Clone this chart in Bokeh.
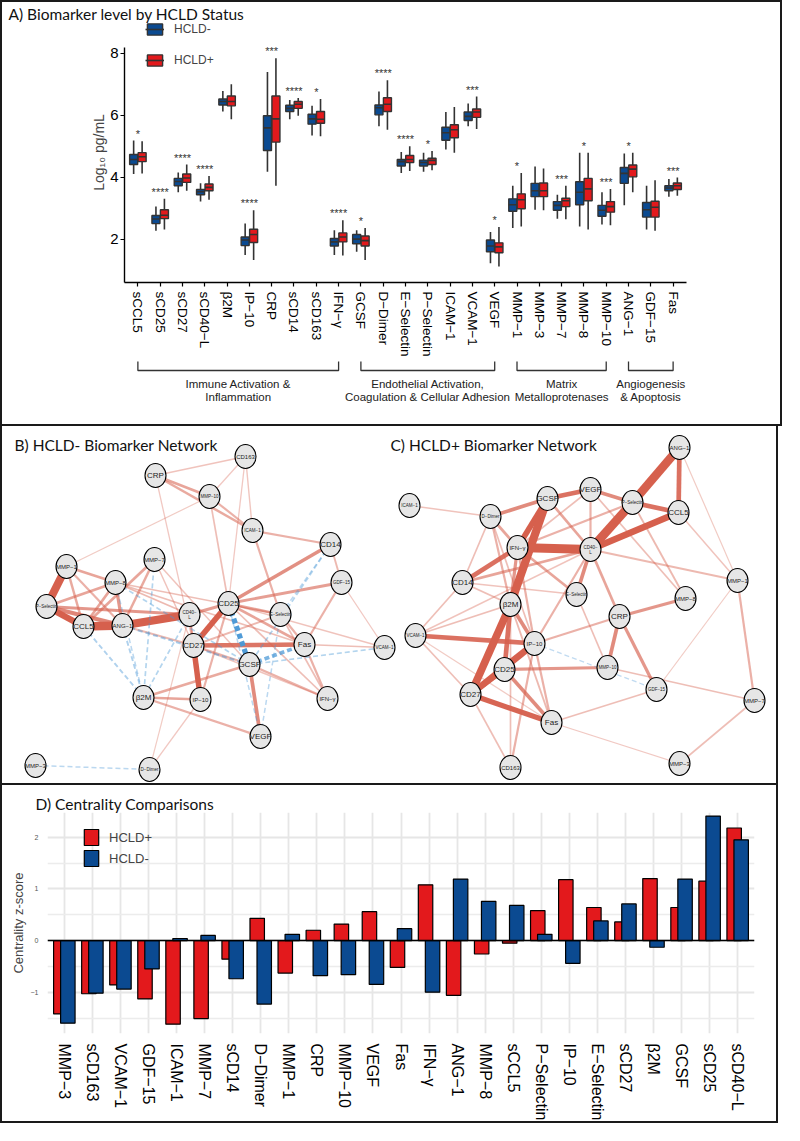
import numpy as np
from bokeh.plotting import figure
from bokeh.models import (Range1d, FixedTicker, Label, Legend, LegendItem, ColumnDataSource, Span)
from bokeh.layouts import column
from bokeh.embed import file_html
from bokeh.resources import INLINE
from bokeh.core.properties import value

# ---------------- Panel A data ----------------
BIOMARKERS = ["sCCL5", "sCD25", "sCD27", "sCD40−L", "β2M", "IP−10", "CRP", "sCD14", "sCD163", "IFN−γ",
              "GCSF", "D−Dimer", "E−Selectin", "P−Selectin", "ICAM−1", "VCAM−1", "VEGF",
              "MMP−1", "MMP−3", "MMP−7", "MMP−8", "MMP−10", "ANG−1", "GDF−15", "Fas"]
NEG_LO = [4.10, 2.27, 3.51, 3.21, 6.12, 1.49, 4.17, 5.87, 5.34, 1.49, 1.59, 5.64, 4.13, 4.17, 4.89, 5.64, 1.22, 2.36, 2.95, 2.66, 2.41, 2.47, 3.09, 2.31, 3.37]
NEG_Q1 = [4.41, 2.50, 3.72, 3.43, 6.33, 1.79, 4.86, 6.12, 5.71, 1.78, 1.85, 6.01, 4.36, 4.36, 5.19, 5.83, 1.59, 2.90, 3.37, 2.93, 3.11, 2.74, 3.80, 2.71, 3.56]
NEG_MED = [4.57, 2.65, 3.86, 3.53, 6.44, 1.97, 5.59, 6.22, 5.88, 1.91, 2.00, 6.24, 4.50, 4.47, 5.43, 5.96, 1.78, 3.11, 3.56, 3.09, 3.51, 2.93, 4.12, 2.95, 3.65]
NEG_Q3 = [4.73, 2.76, 3.96, 3.60, 6.52, 2.07, 5.98, 6.32, 6.03, 2.02, 2.15, 6.33, 4.57, 4.55, 5.61, 6.10, 1.97, 3.30, 3.80, 3.21, 3.85, 3.09, 4.31, 3.18, 3.72]
NEG_HI = [5.18, 3.05, 4.15, 3.80, 6.78, 2.50, 7.39, 6.49, 6.30, 2.29, 2.29, 6.76, 4.81, 4.79, 6.10, 6.38, 2.23, 3.72, 4.34, 3.43, 4.79, 3.51, 4.76, 3.72, 3.94]
POS_LO = [4.12, 2.31, 3.56, 3.27, 5.87, 1.33, 3.72, 5.98, 5.32, 1.47, 1.33, 5.53, 4.20, 4.22, 4.79, 5.55, 1.12, 2.41, 2.93, 2.64, 2.31, 2.45, 3.51, 2.27, 3.40]
POS_Q1 = [4.50, 2.66, 3.83, 3.56, 6.30, 1.89, 5.13, 6.22, 5.74, 1.91, 1.78, 6.12, 4.47, 4.41, 5.27, 5.93, 1.56, 2.98, 3.37, 3.05, 3.24, 2.87, 4.01, 2.71, 3.60]
POS_MED = [4.66, 2.77, 3.97, 3.67, 6.44, 2.15, 5.88, 6.35, 5.87, 2.07, 1.95, 6.35, 4.57, 4.54, 5.53, 6.10, 1.75, 3.27, 3.56, 3.24, 3.62, 3.05, 4.26, 3.03, 3.72]
POS_Q3 = [4.79, 2.95, 4.10, 3.78, 6.62, 2.32, 6.62, 6.44, 6.12, 2.20, 2.10, 6.56, 4.70, 4.61, 5.69, 6.20, 1.88, 3.46, 3.81, 3.32, 3.96, 3.21, 4.39, 3.22, 3.81]
POS_HI = [5.16, 3.30, 4.41, 4.04, 7.00, 2.93, 7.84, 6.55, 6.52, 2.61, 2.36, 7.13, 5.00, 4.84, 6.26, 6.60, 2.39, 4.13, 4.28, 3.72, 4.79, 3.62, 4.79, 3.90, 3.99]
SIGNIF = ["*", "****", "****", "****", "", "****", "***", "****", "*", "****", "*", "****", "****", "*", "",
          "***", "*", "*", "", "***", "*", "***", "*", "", "***"]
GROUP_LINE1 = ["Immune Activation &", "Endothelial Activation,", "Matrix", "Angiogenesis"]
GROUP_LINE2 = ["Inflammation", "Coagulation & Cellular Adhesion", "Metalloprotenases", "& Apoptosis"]
GROUP_FIRST = ["sCCL5", "GCSF", "MMP−1", "ANG−1"]
GROUP_LAST = ["IFN−γ", "VEGF", "MMP−10", "Fas"]

# ---------------- Panels B / C data (node layout) ----------------
B_NODES = ["CD163", "CRP", "MMP-10", "ICAM-1", "CD14", "MMP-7", "MMP-1", "MMP-8", "GDF-15", "P-Selectin",
           "CD25", "CD40-L", "E-Selectin", "CCL5", "ANG-1", "CD27", "Fas", "VCAM-1", "GCSF", "β2M",
           "IP-10", "IFN-γ", "VEGF", "MMP-3", "D-Dimer"]
B_X = [253, 163, 217, 260, 338, 162, 74, 123, 349, 54, 236, 197, 288, 91, 130, 201, 312, 392, 257, 151, 208, 335, 268, 43, 157]
B_Y = [464, 483, 504, 538, 552, 567, 574, 590, 590, 614, 611, 622, 622, 634, 633, 653, 652, 655, 672, 705, 707, 706, 744, 773, 777]
B_EDGES = [
    ("MMP-1", "P-Selectin", 0.72), ("P-Selectin", "CCL5", 0.55), ("CCL5", "ANG-1", 0.8), ("ANG-1", "CD40-L", 0.75),
    ("P-Selectin", "ANG-1", 0.32), ("CD25", "CD27", 0.5), ("CD27", "IP-10", 0.48), ("CD27", "Fas", 0.38),
    ("CD25", "CD14", 0.28), ("GCSF", "VEGF", 0.3), ("CD25", "GDF-15", 0.22), ("CD25", "E-Selectin", 0.2),
    ("CD25", "Fas", 0.2), ("CD40-L", "CD25", 0.22), ("MMP-8", "ANG-1", 0.25), ("MMP-8", "CCL5", 0.2),
    ("MMP-1", "MMP-8", 0.2), ("MMP-1", "CCL5", 0.18), ("P-Selectin", "MMP-8", 0.2), ("P-Selectin", "CD40-L", 0.25),
    ("MMP-7", "CCL5", 0.2), ("MMP-7", "ANG-1", 0.18), ("β2M", "IP-10", 0.2), ("β2M", "GCSF", 0.18),
    ("β2M", "VEGF", 0.15), ("CRP", "MMP-10", 0.2), ("CRP", "ICAM-1", 0.18), ("MMP-10", "ICAM-1", 0.15),
    ("ICAM-1", "CD14", 0.15), ("ICAM-1", "E-Selectin", 0.15), ("CD14", "GDF-15", 0.12), ("GDF-15", "Fas", 0.15),
    ("Fas", "IFN-γ", 0.15), ("GCSF", "IFN-γ", 0.15), ("CD27", "GCSF", 0.15), ("Fas", "VCAM-1", 0.1),
    ("E-Selectin", "Fas", 0.15), ("CD25", "IP-10", 0.15), ("CD27", "E-Selectin", 0.12), ("CD27", "CD40-L", 0.15),
    ("ANG-1", "CD27", 0.12), ("MMP-1", "ANG-1", 0.15), ("MMP-8", "CD40-L", 0.12), ("MMP-8", "E-Selectin", 0.1),
    ("MMP-8", "Fas", 0.1), ("CD25", "VCAM-1", 0.08), ("GDF-15", "VCAM-1", 0.06), ("CD163", "CRP", 0.08),
    ("CD163", "MMP-10", 0.06), ("CD163", "ICAM-1", 0.07), ("CD163", "CD25", 0.06), ("MMP-1", "MMP-10", 0.05),
    ("CRP", "CD27", 0.06), ("MMP-10", "CD25", 0.1), ("MMP-7", "CD27", 0.08), ("MMP-7", "GCSF", 0.08),
    ("IP-10", "D-Dimer", 0.06), ("CD40-L", "D-Dimer", 0.05), ("E-Selectin", "IFN-γ", 0.1), ("CD25", "IFN-γ", 0.1),
    ("CD27", "IFN-γ", 0.08), ("CD40-L", "IP-10", 0.1),
    ("CD25", "GCSF", -0.45), ("GCSF", "Fas", -0.3), ("CCL5", "β2M", -0.12), ("ANG-1", "β2M", -0.12),
    ("MMP-7", "β2M", -0.1), ("CD40-L", "β2M", -0.1), ("MMP-8", "GCSF", -0.1), ("ANG-1", "GCSF", -0.14),
    ("CD14", "GCSF", -0.1), ("CD14", "E-Selectin", -0.08), ("GCSF", "VCAM-1", -0.1), ("VEGF", "E-Selectin", -0.08),
    ("VEGF", "CD25", -0.08), ("MMP-3", "D-Dimer", -0.08), ("β2M", "MMP-8", -0.08),
]

C_NODES = ["ANG-1", "VEGF", "GCSF", "P-Selectin", "CCL5", "ICAM-1", "D-Dimer", "IFN-γ", "CD40-L", "CD14",
           "MMP-1", "E-Selectin", "MMP-8", "β2M", "CRP", "VCAM-1", "IP-10", "MMP-10", "CD25", "GDF-15",
           "CD27", "MMP-7", "Fas", "CD163", "MMP-3"]
C_X = [687, 598, 555, 640, 686, 417, 498, 525, 598, 470, 745, 584, 693, 518, 627, 423, 542, 615, 512, 664, 478, 762, 559, 518, 687]
C_Y = [455, 497, 506, 510, 520, 513, 524, 555, 557, 590, 588, 602, 606, 612, 624, 643, 651, 675, 677, 697, 702, 708, 730, 775, 771]
C_EDGES = [
    ("ANG-1", "P-Selectin", 0.8), ("ANG-1", "CCL5", 0.4), ("P-Selectin", "CCL5", 0.4), ("P-Selectin", "CD40-L", 0.8),
    ("CD40-L", "IFN-γ", 0.85), ("CD40-L", "CCL5", 0.6), ("GCSF", "β2M", 0.75), ("GCSF", "IFN-γ", 0.5),
    ("GCSF", "VEGF", 0.4), ("GCSF", "D-Dimer", 0.3), ("VEGF", "P-Selectin", 0.3), ("β2M", "CD27", 0.7),
    ("IP-10", "CD27", 0.6), ("CD25", "CD27", 0.4), ("CD27", "Fas", 0.45), ("CD25", "Fas", 0.3),
    ("β2M", "CD25", 0.4), ("β2M", "IP-10", 0.3), ("IFN-γ", "β2M", 0.25), ("VCAM-1", "IP-10", 0.4),
    ("CD14", "IFN-γ", 0.4), ("CD14", "CD40-L", 0.2), ("CD40-L", "CRP", 0.2), ("CRP", "MMP-10", 0.3),
    ("CRP", "GDF-15", 0.25), ("CRP", "MMP-8", 0.25), ("CD40-L", "E-Selectin", 0.3), ("CD25", "MMP-10", 0.25),
    ("MMP-1", "MMP-7", 0.15), ("MMP-7", "MMP-3", 0.1), ("IFN-γ", "E-Selectin", 0.2), ("D-Dimer", "β2M", 0.15),
    ("D-Dimer", "CD14", 0.1), ("VCAM-1", "CD27", 0.1), ("ICAM-1", "D-Dimer", 0.08), ("ANG-1", "MMP-1", 0.05),
    ("CCL5", "MMP-1", 0.08), ("P-Selectin", "MMP-8", 0.12), ("CD40-L", "MMP-1", 0.12), ("VEGF", "MMP-8", 0.1),
    ("CD163", "CD27", 0.1), ("CD163", "β2M", 0.1), ("CD163", "IP-10", 0.15), ("Fas", "MMP-3", 0.06),
    ("Fas", "GDF-15", 0.1), ("MMP-10", "MMP-7", 0.1), ("GDF-15", "MMP-1", 0.05), ("VCAM-1", "CD14", 0.1),
    ("VCAM-1", "β2M", 0.1), ("VCAM-1", "CD40-L", 0.08), ("VCAM-1", "Fas", 0.05), ("IP-10", "CRP", 0.15),
    ("D-Dimer", "IFN-γ", 0.2), ("D-Dimer", "IP-10", 0.1), ("GCSF", "CD40-L", 0.2), ("VEGF", "CD40-L", 0.15),
    ("VEGF", "IFN-γ", 0.1), ("P-Selectin", "IFN-γ", 0.15), ("CD14", "β2M", 0.1), ("IFN-γ", "IP-10", 0.15),
    ("IP-10", "Fas", 0.15), ("β2M", "Fas", 0.12), ("CD25", "IP-10", 0.2), ("CD14", "E-Selectin", 0.08),
    ("E-Selectin", "MMP-10", 0.1), ("CD40-L", "IP-10", 0.15),
    ("IP-10", "GDF-15", -0.06),
]

# ---------------- Panel D data ----------------
D_CATS = ["MMP−3", "sCD163", "VCAM−1", "GDF−15", "ICAM−1", "MMP−7", "sCD14", "D−Dimer", "MMP−1", "CRP",
          "MMP−10", "VEGF", "Fas", "IFN−γ", "ANG−1", "MMP−8", "sCCL5", "P−Selectin", "IP−10", "E−Selectin",
          "sCD27", "β2M", "GCSF", "sCD25", "sCD40−L"]
D_POS = [-1.42, -1.03, -0.86, -1.13, -1.62, -1.51, -0.36, 0.43, -0.63, 0.20, 0.32, 0.56, -0.52, 1.08, -1.06,
         -0.26, -0.05, 0.58, 1.18, 0.64, 0.36, 1.20, 0.64, 1.15, 2.18]
D_NEG = [-1.60, -1.02, -0.94, -0.55, 0.04, 0.10, -0.74, -1.23, 0.12, -0.68, -0.66, -0.85, 0.23, -1.00, 1.19,
         0.76, 0.68, 0.12, -0.44, 0.38, 0.71, -0.13, 1.19, 2.41, 1.95]

# ---------------- styles ----------------
BLUE = "#0b4a91"
RED = "#e3191c"
DARK = "#333333"
EDGE_POS = "#d6604d"
EDGE_NEG = "#4a98d6"
SANS = "Liberation Sans"
TITLE_FONT = "Lato"
BORDER = "2px solid #1a1a1a"


def style_title(p, text, offset):
    p.title.text = text
    p.title.align = "left"
    p.title.offset = offset
    p.title.standoff = 0
    p.title.text_font = TITLE_FONT
    p.title.text_font_size = "15.5px"
    p.title.text_font_style = "normal"
    p.title.text_color = "#111111"


# ======================= Panel A =======================
pA = figure(width=778, height=357, x_range=Range1d(0.4, 25.6), y_range=Range1d(0.60, 8.99),
            output_backend="svg", toolbar_location=None, tools="",
            min_border_left=122, min_border_right=94, min_border_top=20, min_border_bottom=64,
            outline_line_color=None)
pA.grid.grid_line_color = None
style_title(pA, "A) Biomarker level by HCLD Status", -116)

xA = np.arange(1, len(BIOMARKERS) + 1)
BOX_W = 0.36
OFF = 0.19


def boxes(p, x, lo, q1, med, q3, hi, color):
    p.segment(x0=x, y0=lo, x1=x, y1=hi, line_color=DARK, line_width=1.6)
    rb = p.vbar(x=x, width=BOX_W, bottom=q1, top=q3, fill_color=color, line_color=DARK, line_width=1.4)
    rm = p.segment(x0=x - BOX_W / 2, y0=med, x1=x + BOX_W / 2, y1=med, line_color=DARK, line_width=1.6)
    return rb, rm


rbn, rmn = boxes(pA, xA - OFF, NEG_LO, NEG_Q1, NEG_MED, NEG_Q3, NEG_HI, BLUE)
rbp, rmp = boxes(pA, xA + OFF, POS_LO, POS_Q1, POS_MED, POS_Q3, POS_HI, RED)

pA.text(x=xA, y=np.maximum(NEG_HI, POS_HI) + 0.22, text=SIGNIF, text_align="center",
        text_baseline="middle", text_font_size="11px", text_color=DARK, text_font=value(SANS))

pA.yaxis.ticker = FixedTicker(ticks=[2, 4, 6, 8])
pA.yaxis.bounds = (0.60, 8.19)
pA.yaxis.axis_label = "Log₁₀ pg/mL"
pA.yaxis.axis_label_text_font = SANS
pA.yaxis.axis_label_text_font_style = "normal"
pA.yaxis.axis_label_text_font_size = "14px"
pA.yaxis.axis_label_standoff = 0
pA.xaxis.ticker = FixedTicker(ticks=list(xA))
pA.xaxis.major_label_overrides = {int(i): n for i, n in zip(xA, BIOMARKERS)}
pA.xaxis.major_label_orientation = "vertical"
for ax in (pA.xaxis, pA.yaxis):
    ax.axis_line_color = "black"
    ax.axis_line_width = 1.4
    ax.major_tick_line_color = "black"
    ax.major_tick_line_width = 1.2
    ax.major_tick_out = 4
    ax.major_tick_in = 0
    ax.minor_tick_line_color = None
    ax.major_label_text_font = SANS
    ax.major_label_text_color = "black"
pA.xaxis.major_label_text_font_size = "13.5px"
pA.yaxis.major_label_text_font_size = "15px"
pA.yaxis.major_label_standoff = 2

legA = Legend(items=[LegendItem(label="HCLD-", renderers=[rbn, rmn]),
                     LegendItem(label="HCLD+", renderers=[rbp, rmp])],
              location=(21, 215), glyph_width=19, glyph_height=14, label_height=14,
              spacing=17, padding=0, margin=0, label_standoff=10, border_line_color=None,
              background_fill_alpha=0, label_text_font=SANS, label_text_font_size="12px")
pA.add_layout(legA)

# group brackets (own small figure sharing the category axis)
pA2 = figure(width=778, height=65, x_range=pA.x_range, y_range=Range1d(432, 367),
             output_backend="svg", toolbar_location=None, tools="",
             x_axis_location=None, y_axis_location=None,
             min_border_left=122, min_border_right=94, min_border_top=0, min_border_bottom=0,
             outline_line_color=None)
pA2.grid.grid_line_color = None
g_x1 = [BIOMARKERS.index(f) + 1 for f in GROUP_FIRST]
g_x2 = [BIOMARKERS.index(l) + 1 for l in GROUP_LAST]
BR_TOP, BR_BOT = 369, 378
pA2.multi_line(xs=[[a, a, b, b] for a, b in zip(g_x1, g_x2)],
               ys=[[BR_TOP, BR_BOT, BR_BOT, BR_TOP] for _ in g_x1],
               line_color=DARK, line_width=1.3)
g_mid = [(a + b) / 2 for a, b in zip(g_x1, g_x2)]
pA2.text(x=g_mid, y=[391] * len(g_mid), text=GROUP_LINE1, text_align="center", text_baseline="middle",
         text_font=value(SANS), text_font_size="11.5px", text_color="#222222")
pA2.text(x=g_mid, y=[404] * len(g_mid), text=GROUP_LINE2, text_align="center", text_baseline="middle",
         text_font=value(SANS), text_font_size="11.5px", text_color="#222222")

panelA = column(pA, pA2, spacing=0, styles={"border": BORDER})

# ======================= Panels B & C =======================
pN = figure(width=778, height=359, x_range=Range1d(10, 788), y_range=Range1d(793, 434),
            output_backend="svg", toolbar_location=None, tools="",
            x_axis_location=None, y_axis_location=None, min_border=0, outline_line_color=None,
            styles={"border-left": BORDER, "border-right": BORDER, "border-bottom": BORDER})
pN.grid.grid_line_color = None


def draw_net(p, nodes, xs, ys, edges):
    pos = dict(zip(nodes, zip(xs, ys)))
    edges = sorted(edges, key=lambda e: abs(e[2]))
    for sign, color, dash in ((1, EDGE_POS, "solid"), (-1, EDGE_NEG, "5 3")):
        sel = [e for e in edges if np.sign(e[2]) == sign]
        w = np.abs(np.array([e[2] for e in sel]))
        src = ColumnDataSource(dict(
            x0=[pos[a][0] for a, b, _ in sel], y0=[pos[a][1] for a, b, _ in sel],
            x1=[pos[b][0] for a, b, _ in sel], y1=[pos[b][1] for a, b, _ in sel],
            lw=0.7 + 10 * w, la=np.minimum(1.0, 0.25 + 1.6 * w)))
        p.segment("x0", "y0", "x1", "y1", source=src, line_color=color, line_width="lw",
                  line_alpha="la", line_dash=dash)
    labels = [("CD40−\nL" if n == "CD40-L" else n.replace("-", "−")) for n in nodes]
    fs = ["8px" if len(n) <= 4 else ("6px" if len(n) == 5 else "4.5px") for n in nodes]
    src = ColumnDataSource(dict(x=xs, y=ys, t=labels, fs=fs))
    p.ellipse("x", "y", width=21, height=24, source=src, fill_color="#e6e6e6",
              line_color="black", line_width=1.1)
    p.text("x", "y", text="t", source=src, text_font_size="fs", text_align="center",
           text_baseline="middle", text_font=value(SANS), text_color="#222222", text_line_height=1.0)


draw_net(pN, B_NODES, B_X, B_Y, B_EDGES)
draw_net(pN, C_NODES, C_X, C_Y, C_EDGES)
pN.add_layout(Label(x=22, y=452, text="B) HCLD- Biomarker Network", text_font=TITLE_FONT,
                    text_font_size="15.5px", text_baseline="middle", text_color="#111111"))
pN.add_layout(Label(x=398, y=452, text="C) HCLD+ Biomarker Network", text_font=TITLE_FONT,
                    text_font_size="15.5px", text_baseline="middle", text_color="#111111"))

# ======================= Panel D =======================
pD = figure(width=778, height=338, x_range=Range1d(0.4, 25.6), y_range=Range1d(-1.80, 2.48),
            output_backend="svg", toolbar_location=None, tools="",
            min_border_left=45, min_border_right=26, min_border_top=27, min_border_bottom=80,
            outline_line_color=None,
            styles={"border-left": BORDER, "border-right": BORDER, "border-bottom": BORDER})
style_title(pD, "D) Centrality Comparisons", -12)
xD = np.arange(1, len(D_CATS) + 1)
BAR_W = 0.515
r_pos = pD.vbar(x=xD - 0.125, bottom=0, top=D_POS, width=BAR_W, fill_color=RED,
                line_color="black", line_width=1.2)
r_neg = pD.vbar(x=xD + 0.125, bottom=0, top=D_NEG, width=BAR_W, fill_color=BLUE,
                line_color="black", line_width=1.2)
pD.add_layout(Span(location=0, dimension="width", line_color="black", line_width=1.6))

pD.xaxis.ticker = FixedTicker(ticks=list(xD))
pD.xaxis.major_label_overrides = {int(i): n for i, n in zip(xD, D_CATS)}
pD.xaxis.major_label_orientation = "vertical"
pD.xaxis.major_label_text_font_size = "16px"
pD.xaxis.major_label_standoff = 4
pD.yaxis.ticker = FixedTicker(ticks=[-1, 0, 1, 2], minor_ticks=[-1.5, -0.5, 0.5, 1.5])
pD.yaxis.major_label_text_font_size = "7px"
pD.yaxis.major_label_text_color = "#555555"
pD.yaxis.major_label_standoff = 3
pD.yaxis.axis_label = "Centrality z-score"
pD.yaxis.axis_label_text_font = SANS
pD.yaxis.axis_label_text_font_style = "normal"
pD.yaxis.axis_label_text_font_size = "13px"
pD.yaxis.axis_label_standoff = 2
for ax in (pD.xaxis, pD.yaxis):
    ax.axis_line_color = None
    ax.major_tick_line_color = None
    ax.minor_tick_line_color = None
    ax.major_label_text_font = SANS
pD.xaxis.major_label_text_color = "black"
pD.grid.grid_line_color = "#e6e6e6"
pD.grid.grid_line_width = 1.8
pD.ygrid.minor_grid_line_color = "#ececec"
pD.ygrid.minor_grid_line_width = 1.4

legD = Legend(items=[LegendItem(label="HCLD+", renderers=[r_pos]),
                     LegendItem(label="HCLD-", renderers=[r_neg])],
              location=(35, 165), glyph_width=18, glyph_height=20, label_height=20,
              spacing=1, padding=0, margin=0, label_standoff=9, border_line_color=None,
              background_fill_alpha=0, label_text_font=SANS, label_text_font_size="13px")
pD.add_layout(legD)

open("out.html", "w").write(file_html([panelA, pN, pD], INLINE))
